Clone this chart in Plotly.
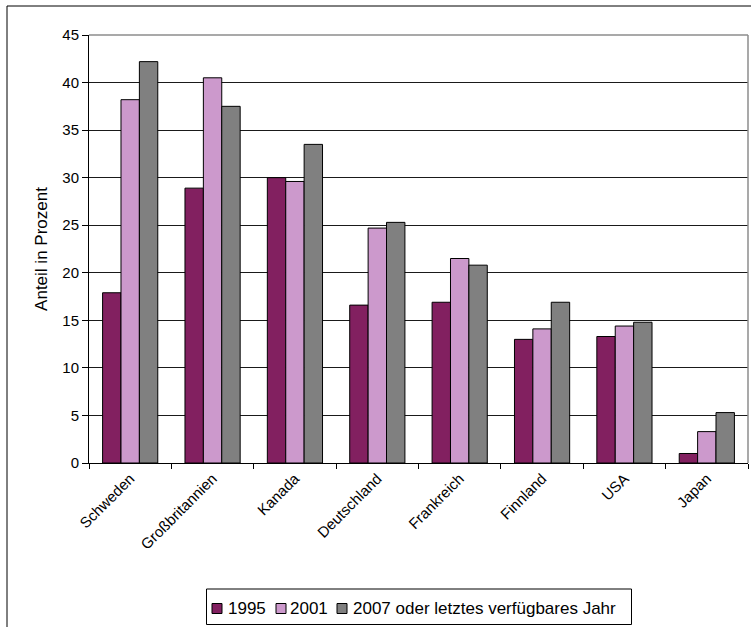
import plotly.graph_objects as go

countries = ["Schweden", "Großbritannien", "Kanada", "Deutschland",
             "Frankreich", "Finnland", "USA", "Japan"]
v1995 = [17.9, 28.9, 30.0, 16.6, 16.9, 13.0, 13.3, 1.0]
v2001 = [38.2, 40.5, 29.6, 24.7, 21.5, 14.1, 14.4, 3.3]
v2007 = [42.2, 37.5, 33.5, 25.3, 20.8, 16.9, 14.8, 5.3]
series_names = ["1995", "2001", "2007 oder letztes verfügbares Jahr"]
y_ticks = [0, 5, 10, 15, 20, 25, 30, 35, 40, 45]

colors = ["#822060", "#CC99CC", "#808080"]
FONT = "Liberation Sans, Arial, sans-serif"

fig = go.Figure()
for name, vals, col in zip(series_names, [v1995, v2001, v2007], colors):
    fig.add_trace(go.Bar(
        x=countries, y=vals, name=name, showlegend=False,
        marker=dict(color=col, line=dict(color="black", width=1)),
    ))

W, H = 751, 627
ml, mr, mt, mb = 89, 3, 35, 164
pw, ph = W - ml - mr, H - mt - mb


def px_x(p):
    return (p - ml) / pw


def px_y(p):
    return (H - mb - p) / ph


shapes = [
    # outer chart frame (left and top edges)
    dict(type="line", xref="paper", yref="paper", x0=px_x(7), x1=px_x(7),
         y0=px_y(6), y1=px_y(640), line=dict(color="black", width=1)),
    dict(type="line", xref="paper", yref="paper", x0=px_x(7), x1=px_x(760),
         y0=px_y(6), y1=px_y(6), line=dict(color="black", width=1)),
    # plot area border top/right
    dict(type="line", xref="paper", yref="paper", x0=0, x1=1, y0=1, y1=1,
         line=dict(color="#8c8c8c", width=1.5)),
    dict(type="line", xref="paper", yref="paper", x0=1, x1=1, y0=0, y1=1,
         line=dict(color="#8c8c8c", width=1.5)),
    # legend box
    dict(type="rect", xref="paper", yref="paper",
         x0=px_x(206.5), x1=px_x(631.5), y0=px_y(589), y1=px_y(624.5),
         line=dict(color="black", width=1), fillcolor="white"),
]

annotations = []
legend_sym_x = [212, 276, 337]
legend_txt_x = [226, 288, 351]
legend_mid_y = 608.5
for name, col, sx, tx in zip(series_names, colors, legend_sym_x, legend_txt_x):
    shapes.append(dict(
        type="rect", xref="paper", yref="paper",
        x0=px_x(sx), x1=px_x(sx + 10),
        y0=px_y(legend_mid_y - 5), y1=px_y(legend_mid_y + 5),
        line=dict(color="black", width=1), fillcolor=col))
    annotations.append(dict(
        text=name, xref="paper", yref="paper", x=px_x(tx), y=px_y(legend_mid_y),
        xanchor="left", yanchor="middle", showarrow=False,
        font=dict(family=FONT, size=17, color="black")))

fig.update_layout(
    width=W, height=H,
    margin=dict(l=ml, r=mr, t=mt, b=mb),
    paper_bgcolor="white", plot_bgcolor="white",
    barmode="group", bargap=0.33, bargroupgap=0,
    font=dict(family=FONT, size=15, color="black"),
    showlegend=False,
    xaxis=dict(
        type="category", tickangle=-45, tickson="boundaries",
        ticks="outside", ticklen=5, tickcolor="black",
        showline=True, linecolor="black", linewidth=1,
        showgrid=False, tickfont=dict(family=FONT, size=15),
    ),
    yaxis=dict(
        range=[0, 45], tickvals=y_ticks, ticks="outside", ticklen=6,
        tickcolor="black", showline=True, linecolor="black", linewidth=1,
        showgrid=True, gridcolor="#1a1a1a", gridwidth=1, zeroline=False,
        title=dict(text="Anteil in Prozent", font=dict(family=FONT, size=17),
                   standoff=10),
        tickfont=dict(family=FONT, size=15),
    ),
    shapes=shapes,
    annotations=annotations,
)

fig.write_html("out.html")
